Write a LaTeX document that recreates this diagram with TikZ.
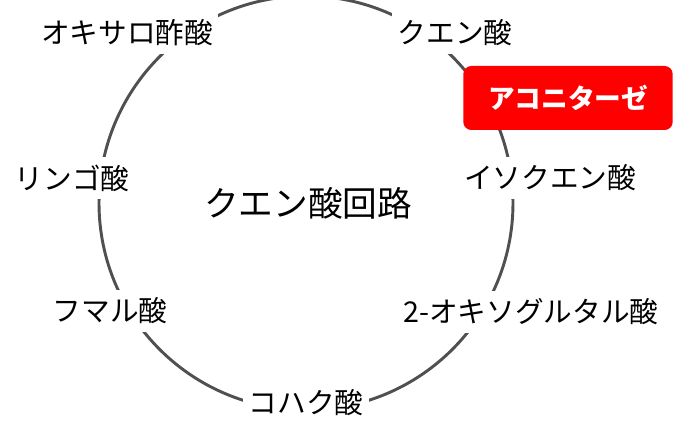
\documentclass[tikz,border=0pt]{standalone}
\usepackage{fontspec}
\usepackage{tikz}
\usetikzlibrary{positioning}
\newfontfamily\jpfont{Noto Sans CJK JP}
\definecolor{ringgrey}{RGB}{80,80,80}
\definecolor{enzred}{RGB}{255,0,0}

\begin{document}
\begin{tikzpicture}[
  x=0.75pt,y=-0.75pt,
  font=\jpfont\fontsize{21.5pt}{25pt}\selectfont,
  acid/.style={fill=white,inner xsep=4pt,inner ysep=6pt},
  enzyme/.style={fill=enzred,text=white,rounded corners=6pt,minimum width=157pt,
                 minimum height=48pt,font=\jpfont\bfseries\fontsize{20pt}{24pt}\selectfont},
  ring/.style={draw=ringgrey,line width=2.2pt}]

\useasboundingbox (0,0) rectangle (700,442);

\draw[ring] (306,203) circle[radius=207];

\node[font=\jpfont\fontsize{26pt}{30pt}\selectfont] (cycle) at (308,203) {クエン酸回路};

\node[acid] (oxalo) at (127,33) {オキサロ酢酸};
\node[acid] (citrate) at (455,33) {クエン酸};
\node[enzyme] (aconitase) at (568,98) {アコニターゼ};
\node[acid] (isocitrate) at (550,178) {イソクエン酸};
\node[acid] (malate) at (72,178) {リンゴ酸};
\node[acid] (fumarate) at (110,311) {フマル酸};
\node[acid] (oxoglut) at (531,312) {2-オキソグルタル酸};
\node[acid] (succinate) at (306,403) {コハク酸};
\end{tikzpicture}
\end{document}
